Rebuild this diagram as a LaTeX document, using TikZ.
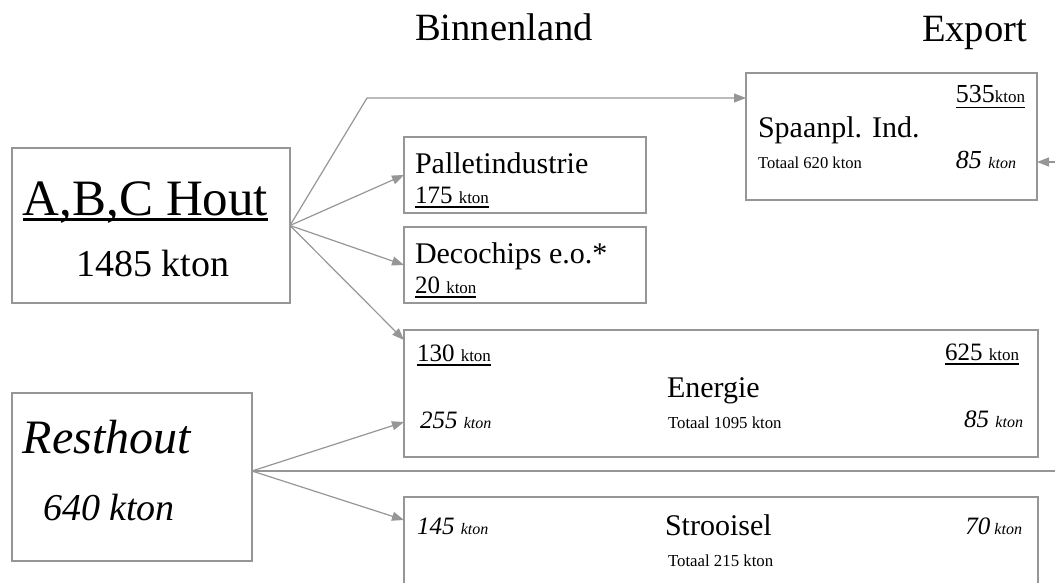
\documentclass[tikz,border=0pt]{standalone}
\usepackage{fontspec}
\setmainfont{Liberation Serif}
\usetikzlibrary{arrows.meta,calc}
\definecolor{linec}{RGB}{150,150,150}
\newcommand{\fs}[1]{\fontsize{#1}{#1}\selectfont}
\newcommand{\myul}[3]{\setbox0\hbox{#3}\leavevmode\rlap{\smash{\rule[-#1]{\wd0}{#2}}}\box0}
\begin{document}
\begin{tikzpicture}[x=1pt,y=-1pt,
 box/.style={draw=linec,line width=1.4pt,rectangle,inner sep=0pt,outer sep=0pt,anchor=north west},
 arr/.style={draw=linec,line width=1.2pt,-{Triangle[length=12pt,width=9pt]}},
 ln/.style={draw=linec,line width=1.2pt},
 txt/.style={inner sep=0pt,outer sep=0pt,anchor=base west},
 txr/.style={inner sep=0pt,outer sep=0pt,anchor=base east}]
\useasboundingbox (0,0) rectangle (1055,583);
\clip (0,0) rectangle (1055,583);
% boxes
\node[box,minimum width=278pt,minimum height=155pt] (abc) at (12,148) {};
\node[box,minimum width=291pt,minimum height=127pt] (spaan) at (746,73) {};
\node[box,minimum width=242pt,minimum height=76pt] (pallet) at (404,137) {};
\node[box,minimum width=242pt,minimum height=76pt] (deco) at (404,227) {};
\node[box,minimum width=634pt,minimum height=127pt] (energie) at (404,330) {};
\node[box,minimum width=240pt,minimum height=168pt] (rest) at (12,393) {};
\node[box,minimum width=634pt,minimum height=120pt] (stroo) at (404,497) {};
% texts
\node[txt] (hbin) at (415,41) {\fs{38.6}Binnenland};
\node[txt] (hexp) at (922,42) {\fs{38.6}Export};
\node[txt] (abct) at (23,215) {\fs{51}\myul{6pt}{2.6pt}{A,B,C Hout}};
\node[txt] (abcn) at (76,276) {\fs{38}1485 kton};
\node[txr] (sp1) at (1025,103) {\fs{26}\myul{5.5pt}{1.8pt}{535{\fs{17}kton}}};
\node[txt] (sp2) at (758,138) {\fs{30}Spaanpl. Ind.};
\node[txt] (sp3) at (758,168) {\fs{16.6}Totaal 620 kton};
\node[txr] (sp4) at (1016,168) {\itshape\fs{26}85 {\fs{16}kton}};
\node[txt] (pa1) at (415,173) {\fs{30}Palletindustrie};
\node[txt] (pa2) at (415,203) {\fs{25}\myul{5pt}{1.8pt}{175 {\fs{17}kton}}};
\node[txt] (de1) at (415,263) {\fs{30}Decochips e.o.*};
\node[txt] (de2) at (415,293) {\fs{25}\myul{5pt}{1.8pt}{20 {\fs{17}kton}}};
\node[txt] (en1) at (417,361) {\fs{25}\myul{5pt}{1.8pt}{130 {\fs{17}kton}}};
\node[txr] (en2) at (1019,360) {\fs{25}\myul{5pt}{1.8pt}{625 {\fs{17}kton}}};
\node[txt] (en3) at (667,397) {\fs{30}Energie};
\node[txt] (en4) at (420,428) {\itshape\fs{25}255 {\fs{16}kton}};
\node[txt] (en5) at (668,428) {\fs{16.8}Totaal 1095 kton};
\node[txr] (en6) at (1023,427) {\itshape\fs{25}85 {\fs{16}kton}};
\node[txt] (re1) at (23,453) {\itshape\fs{48}Resthout};
\node[txt] (re2) at (43,520) {\itshape\fs{38}640 kton};
\node[txt] (st1) at (417,534) {\itshape\fs{25}145 {\fs{16}kton}};
\node[txt] (st2) at (665,535) {\fs{30}Strooisel};
\node[txr] (st3) at (1022,534) {\itshape\fs{25}70{\fs{16} kton}};
\node[txt] (st4) at (668,566) {\fs{16.8}Totaal 215 kton};
% connectors
\coordinate (bend) at (367,98);
\draw[arr] (abc.east) -- (bend) -- (bend -| spaan.west);
\draw[arr] (abc.east) -- (pallet.west);
\draw[arr] (abc.east) -- (deco.west);
\draw[arr] (abc.east) -- ([yshift=-10pt]energie.north west);
\coordinate (rsrc) at ([yshift=6pt]rest.east);
\draw[arr] (rsrc) -- ([yshift=35pt]energie.south west);
\draw[arr] (rsrc) -- ([yshift=-23pt]stroo.north west);
\coordinate (rend) at (1055,471);
\draw[ln] (rsrc) -- (rend);
\coordinate (sin) at (1055,162);
\draw[arr] (sin) -- (sin -| spaan.east);
\end{tikzpicture}
\end{document}
